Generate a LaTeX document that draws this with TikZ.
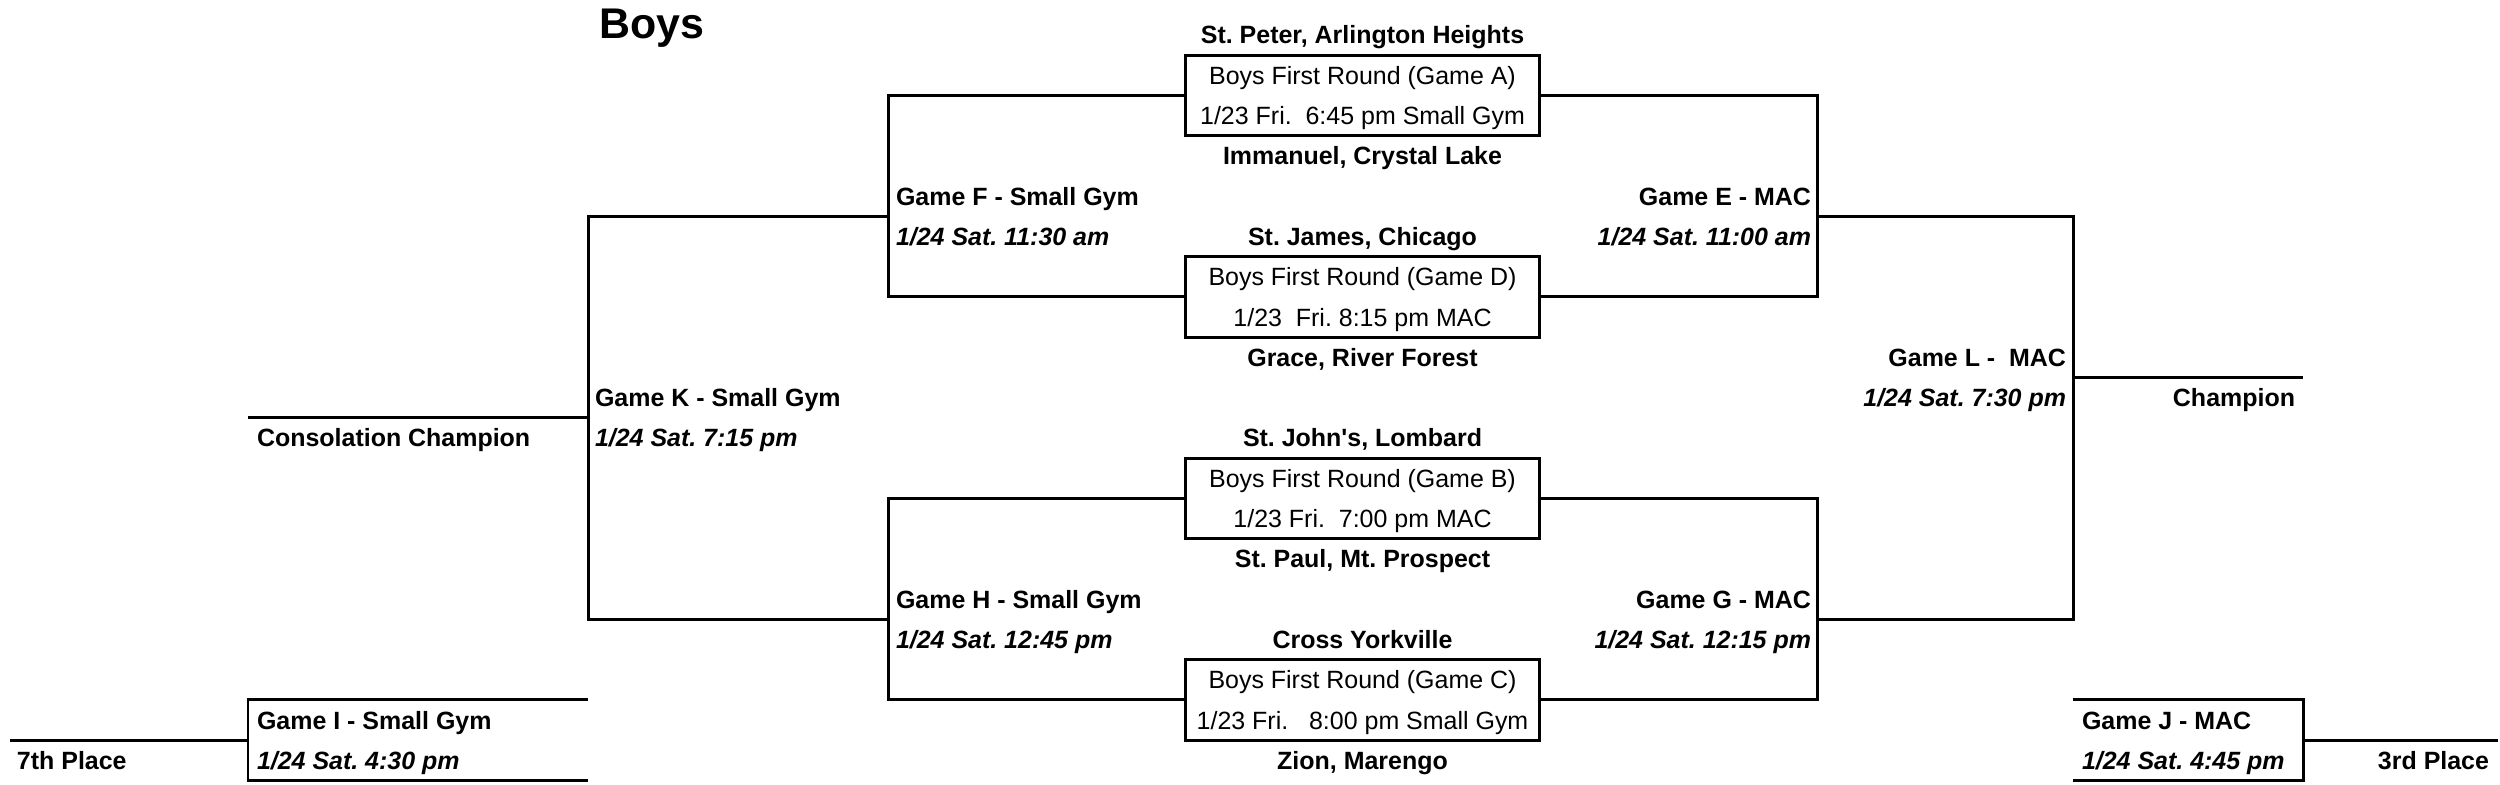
\documentclass[tikz,border=0pt]{standalone}
\usepackage{fontspec}
\setmainfont{Liberation Sans}[Ligatures=TeXOff]
\begin{document}
\frenchspacing
\begin{tikzpicture}[x=0.01cm,y=-0.01cm,line width=0.85pt,
  base/.style={inner sep=0pt,outer sep=0pt,text height=5.1pt,text depth=0pt,font=\fontsize{7.1pt}{8pt}\selectfont},
  team/.style={base,font=\fontsize{7.1pt}{8pt}\selectfont\bfseries,anchor=center},
  boxtxt/.style={base,anchor=center},
  gname/.style={base,font=\fontsize{7.1pt}{8pt}\selectfont\bfseries},
  gdate/.style={base,font=\fontsize{7.1pt}{8pt}\selectfont\bfseries\itshape},
  gamebox/.style={draw,minimum width=3.53cm,minimum height=0.806cm,inner sep=0pt,outer sep=0pt},
  wire/.style={line width=0.85pt}]
\useasboundingbox (0,0) rectangle (2500,785);

% title
\node[inner sep=0pt,anchor=west,text height=8.7pt,text depth=0pt,font=\fontsize{12.2pt}{14pt}\selectfont\bfseries] (title) at (598,23) {Boys};

% first round boxes
\node[gamebox] (A) at (1362.5,95.45) {};
\node[gamebox] (D) at (1362.5,296.95) {};
\node[gamebox] (B) at (1362.5,498.45) {};
\node[gamebox] (C) at (1362.5,699.95) {};

\node[boxtxt] (A1) at (1362.5,75.3) {Boys First Round (Game A)};
\node[boxtxt] (A2) at (1362.5,115.6) {1/23 Fri.\ \ 6:45 pm Small Gym};
\node[boxtxt] (D1) at (1362.5,276.8) {Boys First Round (Game D)};
\node[boxtxt] (D2) at (1362.5,317.1) {1/23\ \ Fri. 8:15 pm MAC};
\node[boxtxt] (B1) at (1362.5,478.3) {Boys First Round (Game B)};
\node[boxtxt] (B2) at (1362.5,518.6) {1/23 Fri.\ \ 7:00 pm MAC};
\node[boxtxt] (C1) at (1362.5,679.8) {Boys First Round (Game C)};
\node[boxtxt] (C2) at (1362.5,720.1) {1/23 Fri.\ \ \ 8:00 pm Small Gym};

% teams
\node[team] (t1) at (1362.5,35) {St. Peter, Arlington Heights};
\node[team] (t2) at (1362.5,155.9) {Immanuel, Crystal Lake};
\node[team] (t3) at (1362.5,236.5) {St. James, Chicago};
\node[team] (t4) at (1362.5,357.4) {Grace, River Forest};
\node[team] (t5) at (1362.5,438) {St. John's, Lombard};
\node[team] (t6) at (1362.5,558.9) {St. Paul, Mt. Prospect};
\node[team] (t7) at (1362.5,639.5) {Cross Yorkville};
\node[team] (t8) at (1362.5,760.4) {Zion, Marengo};

% corner coordinates
\coordinate (Ft) at (888,95.45);  \coordinate (Fb) at (888,296.95);
\coordinate (Et) at (1817,95.45); \coordinate (Eb) at (1817,296.95);
\coordinate (Ht) at (888,498.45); \coordinate (Hb) at (888,699.95);
\coordinate (Gt) at (1817,498.45);\coordinate (Gb) at (1817,699.95);
\coordinate (Fo) at (888,216.35); \coordinate (Ho) at (888,619.35);
\coordinate (Kt) at (588,216.35); \coordinate (Kb) at (588,619.35);
\coordinate (Ko) at (588,417.85); \coordinate (Cons) at (248,417.85);
\coordinate (Eo) at (1817,216.35);\coordinate (Go) at (1817,619.35);
\coordinate (Lt) at (2073,216.35);\coordinate (Lb) at (2073,619.35);
\coordinate (Lo) at (2073,377.55);\coordinate (Champ) at (2303,377.55);
\coordinate (It) at (588,699.95); \coordinate (Ib) at (588,780.55);
\coordinate (Itl) at (248,699.95);\coordinate (Ibl) at (248,780.55);
\coordinate (Io) at (248,740.25); \coordinate (Seventh) at (10,740.25);
\coordinate (Jt) at (2073,699.95);\coordinate (Jb) at (2073,780.55);
\coordinate (Jtr) at (2303,699.95);\coordinate (Jbr) at (2303,780.55);
\coordinate (Jo) at (2303,740.25);\coordinate (Third) at (2498,740.25);

% connectors
\draw[wire] (A.west) -- (Ft) -- (Fb) -- (D.west);
\draw[wire] (A.east) -- (Et) -- (Eb) -- (D.east);
\draw[wire] (B.west) -- (Ht) -- (Hb) -- (C.west);
\draw[wire] (B.east) -- (Gt) -- (Gb) -- (C.east);
\draw[wire] (Fo) -- (Kt) -- (Kb) -- (Ho);
\draw[wire] (Ko) -- (Cons);
\draw[wire] (Eo) -- (Lt) -- (Lb) -- (Go);
\draw[wire] (Lo) -- (Champ);
\draw[wire] (It) -- (Itl) -- (Ibl) -- (Ib);
\draw[wire] (Io) -- (Seventh);
\draw[wire] (Jt) -- (Jtr) -- (Jbr) -- (Jb);
\draw[wire] (Jo) -- (Third);

% game labels
\node[gname,anchor=west] (gF) at (896,196.2) {Game F - Small Gym};
\node[gdate,anchor=west] (dF) at (896,236.5) {1/24 Sat. 11:30 am};
\node[gname,anchor=west] (gH) at (896,599.2) {Game H - Small Gym};
\node[gdate,anchor=west] (dH) at (896,639.5) {1/24 Sat. 12:45 pm};
\node[gname,anchor=east] (gE) at (1811,196.2) {Game E - MAC};
\node[gdate,anchor=east] (dE) at (1811,236.5) {1/24 Sat. 11:00 am};
\node[gname,anchor=east] (gG) at (1811,599.2) {Game G - MAC};
\node[gdate,anchor=east] (dG) at (1811,639.5) {1/24 Sat. 12:15 pm};
\node[gname,anchor=west] (gK) at (595,397.7) {Game K - Small Gym};
\node[gdate,anchor=west] (dK) at (595,438) {1/24 Sat. 7:15 pm};
\node[gname,anchor=west] (cc) at (257,438) {Consolation Champion};
\node[gname,anchor=east] (gL) at (2066,357.4) {Game L -\ \ MAC};
\node[gdate,anchor=east] (dL) at (2066,397.7) {1/24 Sat. 7:30 pm};
\node[gname,anchor=east] (ch) at (2295,397.7) {Champion};
\node[gname,anchor=west] (gI) at (257,720.1) {Game I - Small Gym};
\node[gdate,anchor=west] (dI) at (257,760.4) {1/24 Sat. 4:30 pm};
\node[gname,anchor=west] (p7) at (17,760.4) {7th Place};
\node[gname,anchor=west] (gJ) at (2082,720.1) {Game J - MAC};
\node[gdate,anchor=west] (dJ) at (2082,760.4) {1/24 Sat. 4:45 pm};
\node[gname,anchor=east] (p3) at (2489,760.4) {3rd Place};
\end{tikzpicture}
\end{document}
